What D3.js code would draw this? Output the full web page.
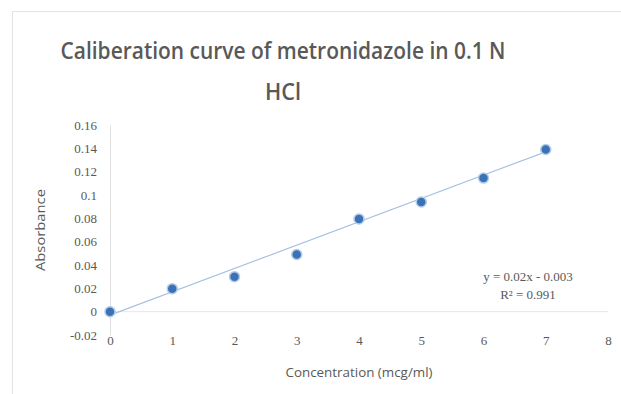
<!DOCTYPE html>
<html>
<head>
<meta charset="utf-8">
<script src="https://cdn.jsdelivr.net/npm/d3@7"></script>
<style>
  body { margin: 0; background: #fff; }
  svg { display: block; }
</style>
</head>
<body>
<script>
// data
var concentration = [0, 1, 2, 3, 4, 5, 6, 7];
var absorbance = [0, 0.0197, 0.030, 0.049, 0.0795, 0.094, 0.1145, 0.139];
var yTicks = [-0.02, 0, 0.02, 0.04, 0.06, 0.08, 0.1, 0.12, 0.14, 0.16];
var xTicks = [0, 1, 2, 3, 4, 5, 6, 7, 8];
// trendline as printed on the chart
var slope = 0.02, intercept = -0.003;
var eqText = ["y = 0.02x - 0.003", "R\u00b2 = 0.991"];

// svg container
var width = 621, height = 394;
var margin = { top: 125, right: 13, bottom: 59, left: 110 };
var chartWidth = width - margin.left - margin.right;
var chartHeight = height - margin.top - margin.bottom;

var svg = d3.select("body").append("svg")
    .attr("width", width)
    .attr("height", height);

// faint outer frame
svg.append("rect")
    .attr("x", 12.5).attr("y", 11.5)
    .attr("width", width).attr("height", height)
    .attr("fill", "none")
    .attr("stroke", "#e3e3e3");

// title
var title = svg.append("text")
    .attr("text-anchor", "middle")
    .attr("font-family", "'Open Sans', sans-serif")
    .attr("font-weight", 600)
    .attr("font-size", 23)
    .attr("fill", "#595959");
title.append("tspan").attr("x", 283).attr("y", 59)
    .attr("textLength", 445).attr("lengthAdjust", "spacingAndGlyphs")
    .text("Caliberation curve of metronidazole in 0.1 N");
title.append("tspan").attr("x", 283).attr("y", 100)
    .attr("textLength", 36).attr("lengthAdjust", "spacingAndGlyphs")
    .text("HCl");

var g = svg.append("g")
    .attr("transform", `translate(${margin.left}, ${margin.top})`);

var xScale = d3.scaleLinear().domain([0, 8]).range([0, chartWidth]);
var yScale = d3.scaleLinear().domain([-0.02, 0.16]).range([chartHeight, 0]);

var fmt = d => String(+d.toFixed(2));

// y axis
var yAxis = g.append("g")
    .call(d3.axisLeft(yScale).tickValues(yTicks).tickSize(0).tickPadding(13).tickFormat(fmt));
yAxis.select(".domain").attr("stroke", "#e0e0e0");
yAxis.selectAll("text")
    .attr("font-family", "'Liberation Serif', serif")
    .attr("font-size", 13)
    .attr("fill", "#595959");

// x axis labels placed at the bottom
var xAxis = g.append("g")
    .attr("transform", `translate(0, ${chartHeight})`)
    .call(d3.axisBottom(xScale).tickValues(xTicks).tickSize(0).tickPadding(0).tickFormat(fmt));
xAxis.select(".domain").remove();
xAxis.selectAll("text")
    .attr("font-family", "'Liberation Serif', serif")
    .attr("font-size", 13)
    .attr("fill", "#595959")
    .attr("dy", "0.75em");

// zero line
g.append("line")
    .attr("x1", 0).attr("x2", chartWidth)
    .attr("y1", yScale(0)).attr("y2", yScale(0))
    .attr("stroke", "#e8e8e8");

// trendline
g.append("line")
    .attr("x1", xScale(0)).attr("y1", yScale(intercept))
    .attr("x2", xScale(7)).attr("y2", yScale(slope * 7 + intercept))
    .attr("stroke", "#a7c2e3")
    .attr("stroke-width", 1.2);

// points
g.selectAll("circle")
    .data(concentration)
    .enter()
    .append("circle")
    .attr("cx", d => xScale(d))
    .attr("cy", (d, i) => yScale(absorbance[i]))
    .attr("r", 5)
    .attr("fill", "#3a72b5")
    .attr("stroke", "#b3cdea")
    .attr("stroke-width", 1.5);

// equation
svg.selectAll(".eq")
    .data(eqText)
    .enter()
    .append("text")
    .attr("class", "eq")
    .attr("x", 528)
    .attr("y", (d, i) => 281 + i * 18)
    .attr("text-anchor", "middle")
    .attr("font-family", "'Liberation Serif', serif")
    .attr("font-size", 13)
    .attr("fill", "#595959")
    .text(d => d);

// axis titles
svg.append("text")
    .attr("transform", "translate(45, 230) rotate(-90)")
    .attr("text-anchor", "middle")
    .attr("font-family", "'Open Sans', sans-serif")
    .attr("font-size", 13)
    .attr("textLength", 82).attr("lengthAdjust", "spacingAndGlyphs")
    .attr("fill", "#595959")
    .text("Absorbance");

svg.append("text")
    .attr("x", 359).attr("y", 377)
    .attr("text-anchor", "middle")
    .attr("font-family", "'Open Sans', sans-serif")
    .attr("font-size", 13)
    .attr("textLength", 147).attr("lengthAdjust", "spacingAndGlyphs")
    .attr("fill", "#595959")
    .text("Concentration (mcg/ml)");
</script>
</body>
</html>
